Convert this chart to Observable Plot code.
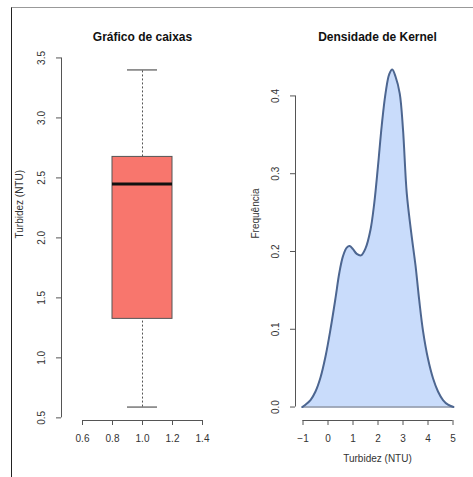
<!DOCTYPE html>
<html>
<head>
<meta charset="utf-8">
<script src="https://cdn.jsdelivr.net/npm/d3@7"></script>
<script src="https://cdn.jsdelivr.net/npm/@observablehq/plot@0.6"></script>
<style>
  html, body { margin: 0; padding: 0; background: #fff; }
  #wrap { position: relative; width: 473px; height: 477px; overflow: hidden; font-family: "Liberation Sans", Arial, sans-serif; }
  #left, #right { position: absolute; top: 0; }
  #left { left: 0; }
  #right { left: 236px; }
  #frame { position: absolute; left: 11px; top: 7px; width: 470px; height: 480px; border-left: 1.5px solid #222; border-top: 1px solid #999; box-sizing: border-box; pointer-events: none; }
</style>
</head>
<body>
<div id="wrap">
  <div id="left"></div>
  <div id="right"></div>
  <div id="frame"></div>
</div>
<script>
// ---- Data ----
const boxTitle = "Gráfico de caixas";
const densTitle = "Densidade de Kernel";
const boxYLabel = "Turbidez (NTU)";
const densXLabel = "Turbidez (NTU)";
const densYLabel = "Frequência";

const boxStatNames = ["min", "q1", "median", "q3", "max"];
const boxStatValues = [0.59, 1.325, 2.45, 2.675, 3.4];

const boxYTicks = [0.5, 1.0, 1.5, 2.0, 2.5, 3.0, 3.5];
const boxXTicks = [0.6, 0.8, 1.0, 1.2, 1.4];
const densXTicks = [-1, 0, 1, 2, 3, 4, 5];
const densYTicks = [0.0, 0.1, 0.2, 0.3, 0.4];

const densX = [-1.03, -0.9, -0.7, -0.5, -0.3, -0.1, 0.1, 0.3, 0.45, 0.6, 0.75, 0.87, 1.0, 1.15, 1.32, 1.5, 1.7, 1.85, 2.0, 2.15, 2.3, 2.45, 2.57, 2.7, 2.87, 3.0, 3.15, 3.33, 3.5, 3.65, 3.8, 4.0, 4.2, 4.4, 4.6, 4.8, 5.02];
const densY = [0.0, 0.003, 0.009, 0.02, 0.038, 0.065, 0.1, 0.14, 0.172, 0.194, 0.205, 0.207, 0.203, 0.197, 0.195, 0.204, 0.228, 0.262, 0.31, 0.362, 0.403, 0.428, 0.434, 0.425, 0.403, 0.357, 0.275, 0.224, 0.182, 0.137, 0.098, 0.062, 0.037, 0.02, 0.009, 0.003, 0.0];

// ---- Derived tables ----
const stat = Object.fromEntries(boxStatNames.map((n, i) => [n, boxStatValues[i]]));
const dens = densX.map((x, i) => ({x, y: densY[i]}));

const FONT = "Liberation Sans, Arial, sans-serif";
const axisColor = "#555";
const textColor = "#333";

// ---- Left: box plot ----
const boxXDomain = [0.46, 1.54];
const boxYDomain = [0.478, 3.512];
const left = Plot.plot({
  width: 236, height: 477,
  marginLeft: 61, marginRight: 13, marginTop: 56, marginBottom: 57,
  style: {fontFamily: FONT, fontSize: "10px", color: textColor, background: "transparent"},
  x: {domain: boxXDomain},
  y: {domain: boxYDomain},
  marks: [
    Plot.ruleX([stat.median ? 1 : 1], {y1: stat.q3, y2: stat.max, stroke: axisColor, strokeDasharray: "2,2", strokeWidth: 1}),
    Plot.ruleX([1], {y1: stat.min, y2: stat.q1, stroke: axisColor, strokeDasharray: "2,2", strokeWidth: 1}),
    Plot.ruleY([stat.min, stat.max], {x1: 0.9, x2: 1.1, stroke: axisColor, strokeWidth: 1.2}),
    Plot.rect([stat], {x1: 0.8, x2: 1.2, y1: "q1", y2: "q3", fill: "#f8766d", stroke: "#555", strokeWidth: 1}),
    Plot.ruleY([stat.median], {x1: 0.8, x2: 1.2, stroke: "#111", strokeWidth: 3}),
    Plot.ruleX([boxXDomain[0]], {y1: boxYTicks[0], y2: boxYTicks[boxYTicks.length - 1], stroke: axisColor}),
    Plot.ruleY([boxYDomain[0]], {x1: boxXTicks[0], x2: boxXTicks[boxXTicks.length - 1], stroke: axisColor}),
    Plot.axisY({ticks: boxYTicks, tickFormat: d3.format(".1f"), tickSize: 5, tickRotate: -90, tickPadding: 12, stroke: axisColor, fill: textColor, label: null}),
    Plot.axisX({ticks: boxXTicks, tickFormat: d3.format(".1f"), tickSize: 5, tickPadding: 9, stroke: axisColor, fill: textColor, label: null}),
    Plot.text([boxTitle], {frameAnchor: "top", dy: -24, fontWeight: "bold", fontSize: 12, fill: "#111"}),
    Plot.text([boxYLabel], {frameAnchor: "left", dx: -42, rotate: -90, fontSize: 10, fill: textColor})
  ]
});
document.getElementById("left").appendChild(left);

// ---- Right: kernel density ----
const densXDomain = [-1.3, 5.26];
const densYDomain = [-0.0173, 0.4507];
const right = Plot.plot({
  width: 237, height: 477,
  marginLeft: 59, marginRight: 14, marginTop: 56, marginBottom: 57,
  style: {fontFamily: FONT, fontSize: "10px", color: textColor, background: "transparent"},
  x: {domain: densXDomain},
  y: {domain: densYDomain},
  marks: [
    Plot.areaY(dens, {x: "x", y: "y", fill: "#c9dcfb", curve: "catmull-rom"}),
    Plot.ruleY([0], {x1: densX[0], x2: densX[densX.length - 1], stroke: "#8792a6", strokeWidth: 1.5}),
    Plot.lineY(dens, {x: "x", y: "y", stroke: "#4d6690", strokeWidth: 2, curve: "catmull-rom"}),
    Plot.ruleX([densXDomain[0]], {y1: densYTicks[0], y2: densYTicks[densYTicks.length - 1], stroke: axisColor}),
    Plot.ruleY([densYDomain[0]], {x1: densXTicks[0], x2: densXTicks[densXTicks.length - 1], stroke: axisColor}),
    Plot.axisY({ticks: densYTicks, tickFormat: d3.format(".1f"), tickSize: 5, tickRotate: -90, tickPadding: 12, stroke: axisColor, fill: textColor, label: null}),
    Plot.axisX({ticks: densXTicks, tickFormat: d3.format("d"), tickSize: 5, tickPadding: 9, stroke: axisColor, fill: textColor, label: null}),
    Plot.text([densTitle], {frameAnchor: "top", dy: -24, fontWeight: "bold", fontSize: 12, fill: "#111"}),
    Plot.text([densXLabel], {frameAnchor: "bottom", dy: 41, fontSize: 10, fill: textColor}),
    Plot.text([densYLabel], {frameAnchor: "left", dx: -40, rotate: -90, fontSize: 10, fill: textColor})
  ]
});
document.getElementById("right").appendChild(right);
</script>
</body>
</html>
